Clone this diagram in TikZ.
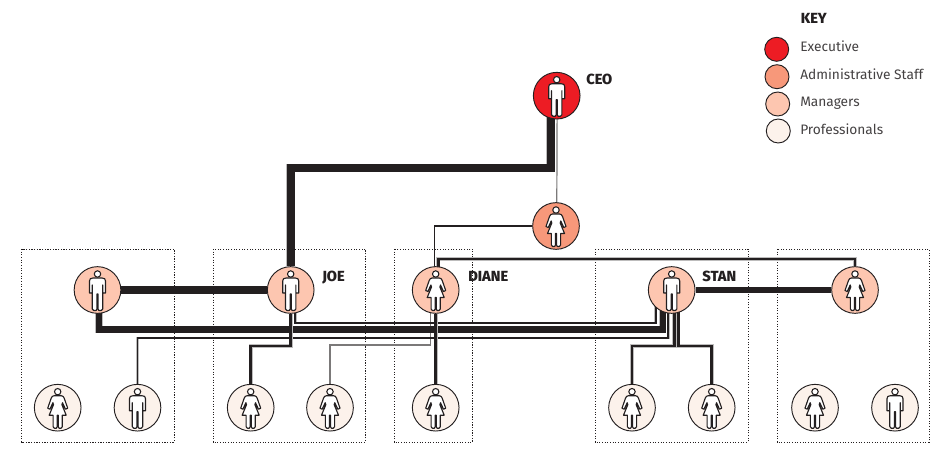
\documentclass[tikz,border=0pt]{standalone}
\usepackage{fontspec}
\setmainfont{Fira Sans}[BoldFont={Fira Sans ExtraBold}]
\usetikzlibrary{calc,backgrounds}
\definecolor{ink}{HTML}{231F20}
\definecolor{execc}{HTML}{ED1C24}
\definecolor{adminc}{HTML}{F7987A}
\definecolor{mgrc}{HTML}{FDC6B0}
\definecolor{proc}{HTML}{FCF2EB}
\tikzset{
  person/.style={circle,draw=ink,line width=0.7pt,minimum size=35pt,inner sep=0pt},
  keydot/.style={circle,draw=ink,line width=0.7pt,minimum size=18pt,inner sep=0pt},
  execp/.style={person,fill=execc},
  adminp/.style={person,fill=adminc},
  mgrp/.style={person,fill=mgrc},
  prop/.style={person,fill=proc},
  groupbox/.style={draw=ink,line width=0.7pt,dash pattern=on 0.8pt off 1.2pt},
  wire/.style={draw=ink,line join=miter,line cap=butt},
  wa/.style={wire,line width=6pt,preaction={draw=ink!30,line width=6.7pt}},
  wb/.style={wire,line width=4.6pt,preaction={draw=ink!30,line width=5.4pt}},
  wc/.style={wire,line width=3.8pt,preaction={draw=ink!30,line width=4.5pt}},
  wd/.style={wire,line width=2.1pt,preaction={draw=ink!30,line width=2.9pt}},
  we/.style={wire,line width=1.3pt,preaction={draw=ink!30,line width=2.1pt}},
  wf/.style={wire,line width=0.8pt},
  wg/.style={draw=ink!60,line width=0.9pt},
  namelbl/.style={anchor=base west,inner sep=0pt,font=\fontsize{11}{12}\selectfont\bfseries,text=ink},
  keytxt/.style={anchor=base west,inner sep=0pt,font=\fontsize{10.3}{12}\selectfont,text=ink!85},
  figline/.style={draw=ink,fill=white,line width=0.85pt,line join=round},
  man/.pic={
    \fill[white,draw=ink,line width=0.8pt] (0,-16) circle (3.2);
    \path[figline] (-4.5,-12) -- (4.5,-12) .. controls (7,-12) and (8,-11) .. (8,-9) -- (8,3) -- (5.2,3) -- (5.2,-5)
      -- (5.2,19) .. controls (5.2,20) and (4.6,20.5) .. (3.8,20.5) -- (1.4,20.5) .. controls (0.8,20.5) and (0.5,20) .. (0.5,19)
      -- (0.5,4) -- (-0.5,4) -- (-0.5,19) .. controls (-0.5,20) and (-0.8,20.5) .. (-1.4,20.5) -- (-3.8,20.5)
      .. controls (-4.6,20.5) and (-5.2,20) .. (-5.2,19) -- (-5.2,-5) -- (-5.2,3) -- (-8,3) -- (-8,-9)
      .. controls (-8,-11) and (-7,-12) .. (-4.5,-12) -- cycle;
  },
  woman/.pic={
    \fill[white,draw=ink,line width=0.8pt] (0,-16) circle (3.2);
    \path[figline] (-3.5,-12) -- (3.5,-12) .. controls (5,-12) and (6,-11) .. (6.5,-9.5) -- (10,0.5) -- (7.8,1.5) -- (4.8,-5)
      -- (4.2,-3) -- (8.5,7.5) -- (4.6,7.5) -- (4.6,19) .. controls (4.6,20) and (4,20.5) .. (3.4,20.5) -- (1.4,20.5)
      .. controls (0.8,20.5) and (0.5,20) .. (0.5,19) -- (0.5,7.5) -- (-0.5,7.5) -- (-0.5,19)
      .. controls (-0.5,20) and (-0.8,20.5) .. (-1.4,20.5) -- (-3.4,20.5) .. controls (-4,20.5) and (-4.6,20) .. (-4.6,19)
      -- (-4.6,7.5) -- (-8.5,7.5) -- (-4.2,-3) -- (-4.8,-5) -- (-7.8,1.5) -- (-10,0.5) -- (-6.5,-9.5)
      .. controls (-6,-11) and (-5,-12) .. (-3.5,-12) -- cycle;
  },
}
\begin{document}
\begin{tikzpicture}[x=0.75pt,y=-0.75pt]
\useasboundingbox (0,0) rectangle (946,466);
% people
\node[execp] (ceo) at (556.7,95.7) {};
\node[adminp] (adm) at (556,226) {};
\node[mgrp] (lef) at (97.5,290) {};
\node[mgrp] (joe) at (290.7,290) {};
\node[mgrp] (dia) at (435.7,290) {};
\node[mgrp] (sta) at (671.7,290) {};
\node[mgrp] (rig) at (855,290) {};
\node[prop] (p1) at (57.7,407.7) {};
\node[prop] (p2) at (137.5,407.7) {};
\node[prop] (p3) at (250.7,407.7) {};
\node[prop] (p4) at (330,407.7) {};
\node[prop] (p5) at (435.7,407.7) {};
\node[prop] (p6) at (632,407.7) {};
\node[prop] (p7) at (711.7,407.7) {};
\node[prop] (p8) at (815,407.7) {};
\node[prop] (p9) at (895,407.7) {};
\begin{scope}[on background layer]
% group boxes
\draw[groupbox] (21.5,249) rectangle (174,442);
\draw[groupbox] (213,249) rectangle (365.5,442);
\draw[groupbox] (394,249) rectangle (472.5,442);
\draw[groupbox] (595,249) rectangle (748,442);
\draw[groupbox] (777,249) rectangle (929,442);
% wires
\draw[wg] ($(ceo)+(0.5,0)$) -- ($(adm)+(0.7,0)$);
\draw[wa] ($(ceo)+(-6,0)$) -- ($(ceo)+(-6,72.3)$) -| (joe);
\draw[wf] (adm) -| ($(dia)+(-1.2,0)$);
\draw[wd] ($(dia)+(2.5,0)$) |- ($(rig)+(0,-31)$) -- (rig);
\draw[wa] (lef) -- (joe);
\draw[wc] (sta) -- (rig);
\draw[wg] (p4) |- ($(dia)+(-5,55)$) -- ($(dia)+(-5,0)$);
\draw[we] ($(joe)+(4.5,0)$) |- ($(sta)+(-16,33)$) -- ($(sta)+(-16,0)$);
\draw[we] (p2) |- ($(sta)+(-3.5,48)$) -- ($(sta)+(-3.5,0)$);
\draw[wb] ($(lef)+(1.5,0)$) |- ($(sta)+(-9,39.5)$) -- ($(sta)+(-9,0)$);
\draw[wd] (joe) |- ($(p3)+(0,-61.7)$) -- (p3);
\draw[wd] (dia) -- (p5);
\draw[wd] (p6) |- ($(sta)+(2.5,56)$) -- ($(sta)+(2.5,0)$);
\draw[wd] (p7) |- ($(sta)+(6.5,56)$) -- ($(sta)+(6.5,0)$);
\end{scope}
% figures
\pic at (ceo) {man};
\pic at (adm) {woman};
\pic at (lef) {man};
\pic at (joe) {man};
\pic at (dia) {woman};
\pic at (sta) {man};
\pic at (rig) {woman};
\pic at (p1) {woman};
\pic at (p2) {man};
\pic at (p3) {woman};
\pic at (p4) {woman};
\pic at (p5) {woman};
\pic at (p6) {woman};
\pic at (p7) {woman};
\pic at (p8) {woman};
\pic at (p9) {man};
% labels
\node[namelbl] (lceo) at (586,85) {CEO};
\node[namelbl] (ljoe) at (322,282) {JOE};
\node[namelbl] (ldia) at (468,282) {DIANE};
\node[namelbl] (lsta) at (702,282) {STAN};
% key
\node[namelbl] (lkey) at (800.5,24) {KEY};
\node[keydot,fill=execc] (k1) at (776.7,49.3) {};
\node[keydot,fill=adminc] (k2) at (777,76.7) {};
\node[keydot,fill=mgrc] (k3) at (777.7,104) {};
\node[keydot,fill=proc] (k4) at (778.3,131) {};
\node[keytxt] (t1) at (800,52) {Executive};
\node[keytxt] (t2) at (800,80) {Administrative Staff};
\node[keytxt] (t3) at (800,107) {Managers};
\node[keytxt] (t4) at (800,135) {Professionals};
\end{tikzpicture}
\end{document}
